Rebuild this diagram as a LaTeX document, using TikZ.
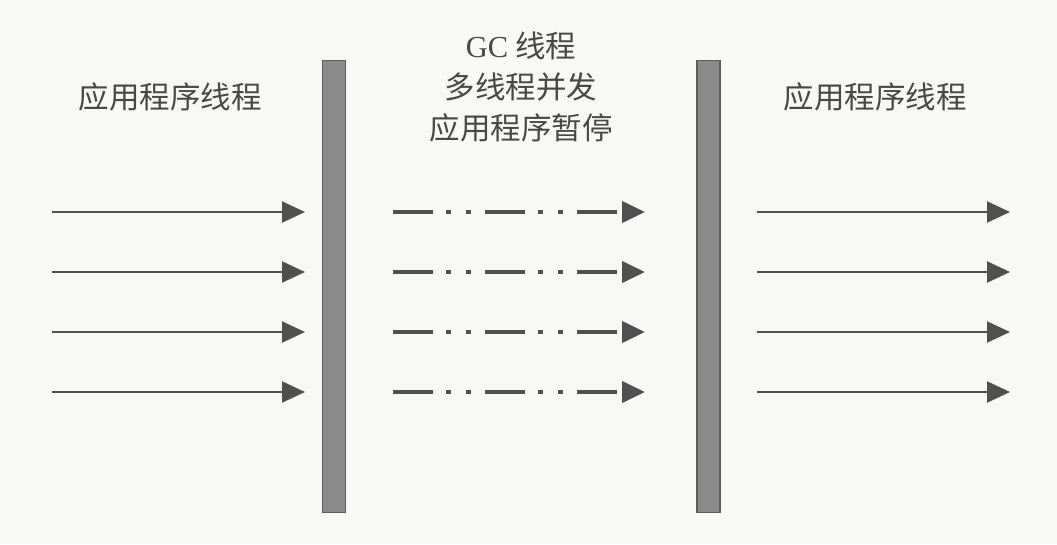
\documentclass[tikz,border=0pt]{standalone}
\usepackage{fontspec}
\setmainfont{Liberation Serif}
\newfontfamily\cjk{Noto Sans CJK SC}[Scale=1.0]
\usetikzlibrary{arrows.meta}
\definecolor{inkgray}{HTML}{505050}
\definecolor{textgray}{HTML}{484848}
\definecolor{barfill}{HTML}{8A8A8A}
\definecolor{barline}{HTML}{5E5E5E}
\definecolor{paper}{HTML}{F8F8F6}
\tikzset{
  wall/.style={draw=barline, line width=1.5pt, fill=barfill, minimum width=23pt, minimum height=452pt, inner sep=0pt},
  runarrow/.style={draw=inkgray, line width=2.2pt, -{Triangle[length=23pt,width=21pt]}},
  gcarrow/.style={draw=inkgray, line width=4pt, dash pattern=on 40pt off 13pt on 5pt off 15pt on 5pt off 14pt, -{Triangle[length=23pt,width=21pt]}},
  label/.style={text=textgray, font=\cjk\fontsize{30.5pt}{41pt}\selectfont, align=center, inner sep=0pt}
}
\begin{document}
\begin{tikzpicture}[x=1pt,y=-1pt]
\useasboundingbox[fill=paper] (0,0) rectangle (1057,544);
\node[wall] (barL) at (334,286.5) {};
\node[wall] (barR) at (708.5,286.5) {};
\node[label] (tL) at (170,97) {应用程序线程};
\node[label] (tR) at (875,97) {应用程序线程};
\node[label] (tM) at (521,87) {{\rmfamily GC} 线程\\多线程并发\\应用程序暂停};
\foreach \i/\y in {1/212,2/272,3/332,4/392}{
  \coordinate (ls\i) at (52,\y);
  \coordinate (le\i) at (305,\y);
  \coordinate (ms\i) at (393,\y);
  \coordinate (me\i) at (645,\y);
  \coordinate (rs\i) at (757,\y);
  \coordinate (re\i) at (1010,\y);
  \draw[runarrow] (ls\i) -- (le\i);
  \draw[gcarrow] (ms\i) -- (me\i);
  \draw[runarrow] (rs\i) -- (re\i);
}
\end{tikzpicture}
\end{document}
